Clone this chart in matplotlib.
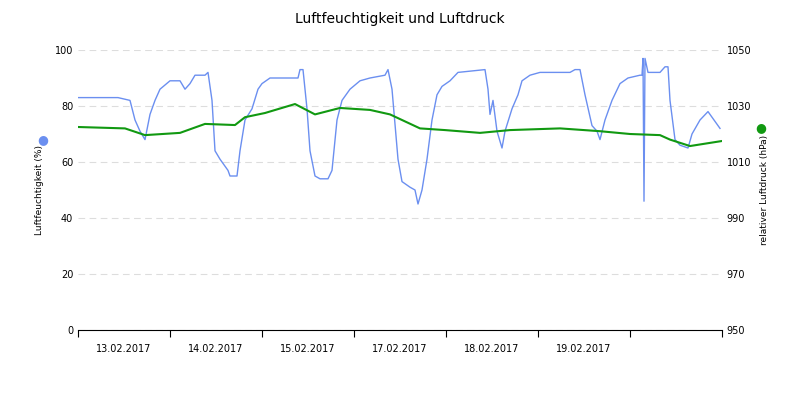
import numpy as np
import matplotlib.pyplot as plt

# hours since start of 12.02.2017 ~ 24:00 (first tick)
hum_px = [78, 118, 130, 135, 140, 145, 150, 155, 160, 170, 180, 185, 190, 195, 205, 208, 212, 215, 220, 228,
          230, 237, 240, 245, 252, 258, 262, 270, 298, 300, 303, 307, 310, 315, 320, 328, 332, 337, 342, 350,
          360, 370, 385, 388, 392, 398, 402, 410, 415, 418, 422, 427, 432, 437, 442, 450, 458, 485, 488, 490,
          493, 497, 502, 505, 512, 518, 522, 530, 540, 570, 575, 580, 585, 592, 597, 600, 605, 612, 620, 628,
          640, 642, 643, 644, 645, 648, 660, 665, 668, 670, 675, 680, 688, 692, 700, 708, 714, 720]
hum_val = [83, 83, 82, 75, 71, 68, 77, 82, 86, 89, 89, 86, 88, 91, 91, 92, 82, 64, 61, 57,
           55, 55, 64, 75, 79, 86, 88, 90, 90, 93, 93, 79, 64, 55, 54, 54, 57, 75, 82, 86,
           89, 90, 91, 93, 86, 61, 53, 51, 50, 45, 50, 61, 75, 84, 87, 89, 92, 93, 86, 77,
           82, 71, 65, 71, 79, 84, 89, 91, 92, 92, 93, 93, 84, 73, 71, 68, 75, 82, 88, 90,
           91, 91, 97, 46, 97, 92, 92, 94, 94, 82, 68, 66, 65, 70, 75, 78, 75, 72]
pres_px = [78, 125, 145, 180, 205, 235, 245, 265, 295, 315, 340, 370, 390, 420, 445, 480, 510, 560, 600,
           630, 660, 670, 690, 722]
pres_val = [1022.5, 1022, 1019.6, 1020.4, 1023.6, 1023.2, 1026, 1027.5, 1030.7, 1027, 1029.3, 1028.6, 1027,
            1022, 1021.4, 1020.4, 1021.4, 1022, 1021, 1020, 1019.6, 1018, 1015.7, 1017.5]
day_labels = ['13.02.2017', '14.02.2017', '15.02.2017', '17.02.2017', '18.02.2017', '19.02.2017', '']

hum_t = (np.array(hum_px) - 78) / 92 * 24
pres_t = (np.array(pres_px) - 78) / 92 * 24

plt.rcParams['font.family'] = 'DejaVu Sans'
fig = plt.figure(figsize=(8, 4), dpi=100)
ax = fig.add_axes([0.0975, 0.175, 0.805, 0.7])
ax2 = ax.twinx()

ax.plot(hum_t, hum_val, color='#6b8ff0', lw=1)
ax2.plot(pres_t, pres_val, color='#119911', lw=1.5)

ax.set_xlim(0, 7 * 24)
ax.set_ylim(0, 100)
ax2.set_ylim(950, 1050)
ax.set_yticks(range(0, 101, 20))
ax2.set_yticks(range(950, 1051, 20))
ax.set_xticks(np.arange(0, 7 * 24 + 1, 24))
ax.set_xticklabels([])
ax.set_xticks(np.arange(12, 7 * 24, 24), minor=True)
ax.set_xticklabels(day_labels, minor=True, fontsize=7)
ax.tick_params(axis='x', which='minor', length=0, pad=10)
ax.tick_params(axis='x', which='major', length=5, color='black')
ax.tick_params(axis='y', length=0, labelsize=7)
ax2.tick_params(axis='y', length=0, labelsize=7)
ax.grid(axis='y', color='#dddddd', ls=(0, (6, 4)), lw=0.8)
for a in (ax, ax2):
    for s in ('top', 'left', 'right'):
        a.spines[s].set_visible(False)
ax.spines['bottom'].set_color('black')
ax2.spines['bottom'].set_visible(False)

ax.set_ylabel('Luftfeuchtigkeit (%)', fontsize=6.5, labelpad=8)
ax2.set_ylabel('relativer Luftdruck (hPa)', fontsize=6.5, labelpad=6)
fig.text(0.054, 0.65, '●', color='#6b8ff0', fontsize=9, ha='center', va='center')
fig.text(0.951, 0.68, '●', color='#119911', fontsize=9, ha='center', va='center')
fig.suptitle('Luftfeuchtigkeit und Luftdruck', y=0.97, fontsize=10)

fig.savefig('out.png')
